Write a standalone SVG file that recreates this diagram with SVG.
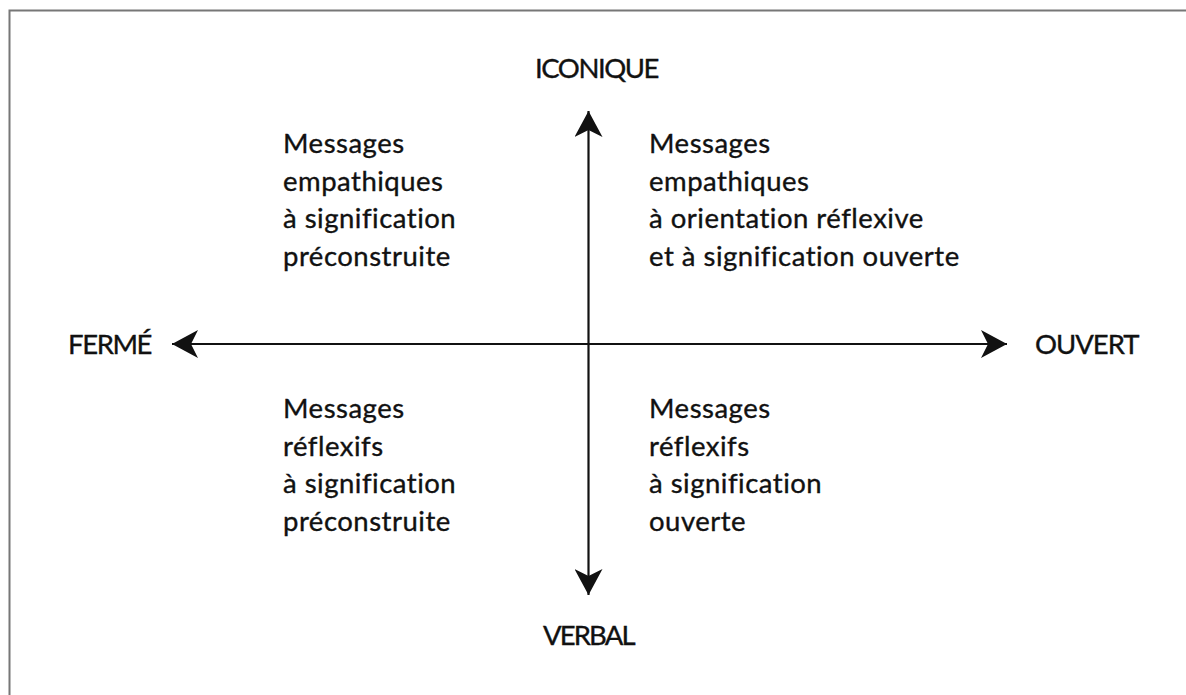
<svg xmlns="http://www.w3.org/2000/svg" width="1186" height="695" viewBox="0 0 1186 695">
<style>
.t{font-family:"Lato","Open Sans","Liberation Sans",sans-serif;font-size:27.5px;letter-spacing:0.5px;fill:#111;stroke:#111;stroke-width:0.35;font-variant-ligatures:none}
.ax{stroke:#111;stroke-width:2.2;fill:none}
</style>
<defs>
<marker id="ah" viewBox="0 0 28 28" refX="26" refY="14" markerWidth="28" markerHeight="28" markerUnits="userSpaceOnUse" orient="auto">
<path d="M26,14 L0,0 L7,14 L0,28 Z" fill="#111"/>
</marker>
</defs>
<rect width="1186" height="695" fill="#fff"/>
<path d="M9.5,695 V10.5 H1186" stroke="#777" stroke-width="2" fill="none"/>
<g id="connectors">
<line class="ax" x1="588.5" y1="346" x2="588.5" y2="111" marker-end="url(#ah)"/>
<line class="ax" x1="588.5" y1="346" x2="588.5" y2="595" marker-end="url(#ah)"/>
<line class="ax" x1="588.5" y1="344" x2="172" y2="344" marker-end="url(#ah)"/>
<line class="ax" x1="588.5" y1="344" x2="1007" y2="344" marker-end="url(#ah)"/>
</g>
<g id="iconique"><text class="t" x="535" y="78" textLength="125">ICONIQUE</text></g>
<g id="verbal"><text class="t" x="543" y="645" textLength="93">VERBAL</text></g>
<g id="ferme"><text class="t" x="68" y="354" textLength="85">FERMÉ</text></g>
<g id="ouvert"><text class="t" x="1035" y="354" textLength="105">OUVERT</text></g>
<g id="q1"><text class="t" x="283" y="153"><tspan x="283">Messages</tspan><tspan x="283" dy="37.5">empathiques</tspan><tspan x="283" dy="37.5">à signification</tspan><tspan x="283" dy="37.5">préconstruite</tspan></text></g>
<g id="q2"><text class="t" x="649" y="153"><tspan x="649">Messages</tspan><tspan x="649" dy="37.5">empathiques</tspan><tspan x="649" dy="37.5">à orientation réflexive</tspan><tspan x="649" dy="37.5">et à signification ouverte</tspan></text></g>
<g id="q3"><text class="t" x="283" y="418"><tspan x="283">Messages</tspan><tspan x="283" dy="37.5">réflexifs</tspan><tspan x="283" dy="37.5">à signification</tspan><tspan x="283" dy="37.5">préconstruite</tspan></text></g>
<g id="q4"><text class="t" x="649" y="418"><tspan x="649">Messages</tspan><tspan x="649" dy="37.5">réflexifs</tspan><tspan x="649" dy="37.5">à signification</tspan><tspan x="649" dy="37.5">ouverte</tspan></text></g>
</svg>
